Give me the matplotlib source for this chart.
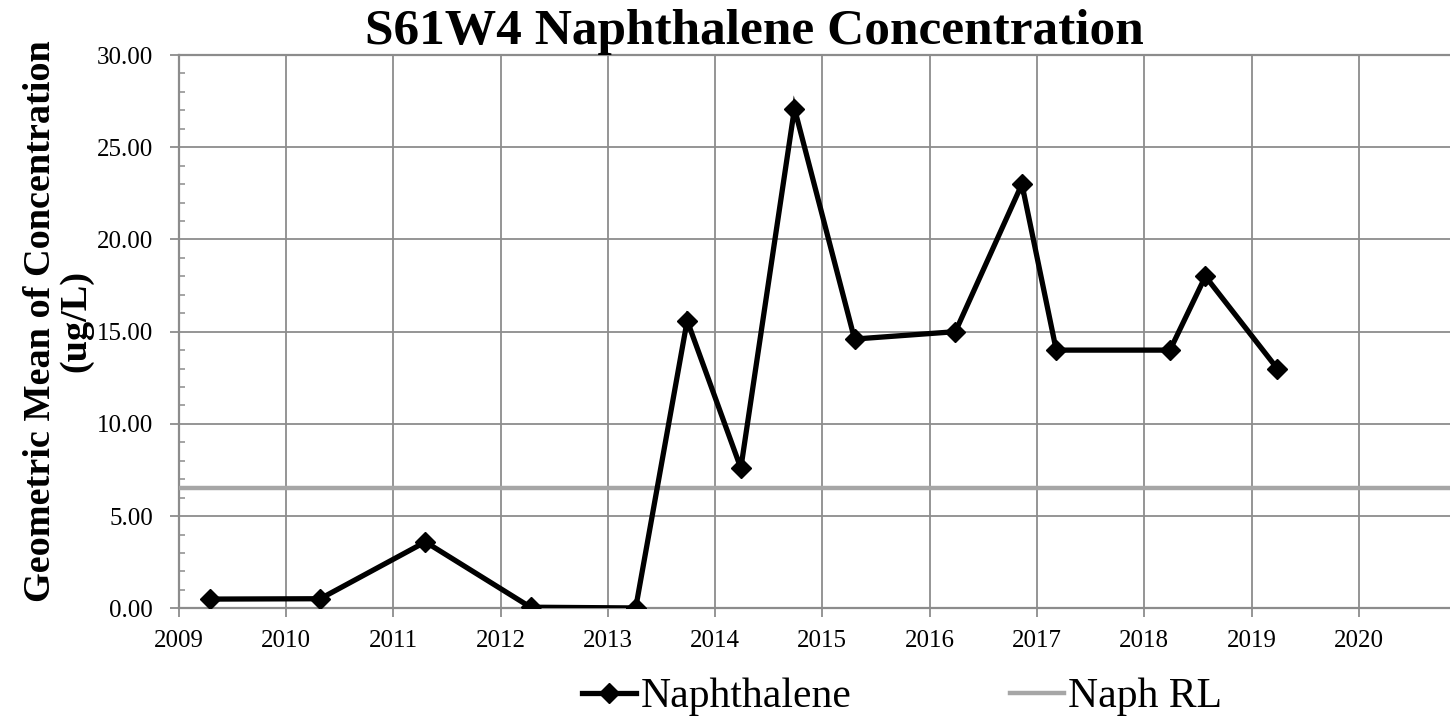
import numpy as np
import matplotlib.pyplot as plt
from matplotlib.ticker import MultipleLocator, FormatStrFormatter

plt.rcParams['font.family'] = ['Liberation Serif', 'DejaVu Serif']

# sampling dates (decimal years) and geometric mean concentrations (ug/L)
dates = [2009.29, 2010.32, 2011.30, 2012.28, 2013.26, 2013.74, 2014.24, 2014.74,
         2015.30, 2016.24, 2016.86, 2017.18, 2018.24, 2018.57, 2019.24]
naphthalene = [0.50, 0.52, 3.60, 0.06, 0.02, 15.60, 7.60, 27.10,
               14.60, 15.00, 23.00, 14.00, 14.00, 18.00, 13.00]
naph_rl = 6.5

fig = plt.figure(figsize=(14.5, 7.26), dpi=100)
ax = fig.add_axes([0.1232, 0.1621, 0.8768, 0.7621])

grid_c = '#8c8c8c'
ax.plot(dates, naphthalene, color='black', lw=3.8, marker='D', ms=10,
        label='Naphthalene', zorder=4, solid_joinstyle='miter')
ax.axhline(naph_rl, color='#a6a6a6', lw=3.2, label='Naph RL', zorder=3)

ax.set_xlim(2009, 2020.85)
ax.set_ylim(0, 30)
ax.xaxis.set_major_locator(MultipleLocator(1))
ax.yaxis.set_major_locator(MultipleLocator(5))
ax.yaxis.set_minor_locator(MultipleLocator(1))
ax.yaxis.set_major_formatter(FormatStrFormatter('%.2f'))
ax.grid(True, which='major', color=grid_c, lw=1.3, zorder=1)

ax.spines['right'].set_visible(False)
for s in ['left', 'bottom', 'top']:
    ax.spines[s].set_color(grid_c)
    ax.spines[s].set_linewidth(1.6)

ax.tick_params(axis='both', which='major', color=grid_c, width=1.3, length=6.5,
               labelsize=18)
ax.tick_params(axis='y', which='major', pad=12)
ax.tick_params(axis='x', which='major', pad=9)
ax.tick_params(axis='y', which='minor', direction='in', color=grid_c,
               width=1.1, length=4.3)

# title and y label placed in figure coordinates
fig.text(0.52, 0.94, 'S61W4 Naphthalene Concentration', fontsize=37,
         fontweight='bold', ha='center', va='baseline')
fig.text(0.040, 0.558, 'Geometric Mean of Concentration\n(ug/L)', fontsize=27.5,
         fontweight='bold', rotation=90, ha='center', va='center',
         multialignment='center', linespacing=1.0)

fig.legend(loc='center', bbox_to_anchor=(0.622, 0.04), ncol=2, frameon=False,
           fontsize=30, handlelength=1.3, handletextpad=0.1, columnspacing=3.8)

plt.savefig('out.png', dpi=100)
